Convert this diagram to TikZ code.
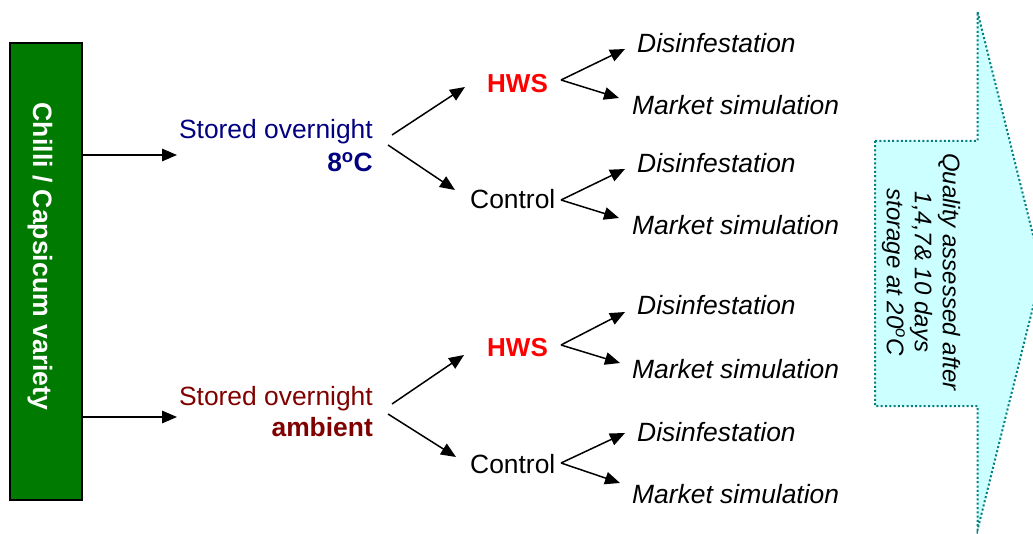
\documentclass[tikz,border=0pt]{standalone}
\usepackage{fontspec}
\setmainfont{Liberation Sans}
\usetikzlibrary{arrows.meta}
\definecolor{navyblue}{RGB}{0,0,128}
\definecolor{maroonred}{RGB}{128,0,0}
\definecolor{boxgreen}{RGB}{0,122,0}
\definecolor{arrowfill}{RGB}{204,255,255}
\definecolor{arrowline}{RGB}{0,128,128}
\begin{document}
\begin{tikzpicture}[x=1pt,y=-1pt,
  lbl/.style={inner sep=0pt, font=\fontsize{26.4}{31}\selectfont},
  outc/.style={lbl, font=\fontsize{26.4}{31}\selectfont\itshape, anchor=base west},
  arr/.style={-{Triangle[length=15pt,width=12.5pt]}, line width=1.5pt, black},
  varbox/.style={draw=black, line width=1.5pt, fill=boxgreen, inner sep=0pt, outer sep=0pt}]
\useasboundingbox (0,0) rectangle (1033,534);
\clip (0,0) rectangle (1033,534);

% big arrow
\path[fill=arrowfill, draw=arrowline, line width=2pt, dash pattern=on 2pt off 2.3pt]
  (875,141) -- (977.5,141) -- (977.5,11.7) -- (1042,271) -- (977.5,530) -- (977.5,406) -- (875,406) -- cycle;
\node[rotate=-90, align=center, inner sep=0pt, font=\fontsize{24}{28}\selectfont\itshape] (quality) at (921,272)
  {Quality assessed after\\1,4,7\& 10 days\\storage at 20\textsuperscript{o}C};

% variety box
\node[varbox, minimum width=72pt, minimum height=457pt] (variety) at (46,271.5) {};
\node[rotate=-90, anchor=base, inner sep=0pt, text=white, font=\fontsize{26.6}{31}\selectfont\bfseries] (vlabel) at (33,256.5) {Chilli / Capsicum variety};

% storage conditions
\node[lbl, anchor=base east, text=navyblue] (s1) at (373,139) {Stored overnight};
\node[lbl, anchor=base east, text=navyblue, font=\fontsize{26.4}{31}\selectfont\bfseries] (s1b) at (373,172) {8\textsuperscript{o}C};
\node[lbl, anchor=base east, text=maroonred] (s2) at (373,405) {Stored overnight};
\node[lbl, anchor=base east, text=maroonred, font=\fontsize{26.4}{31}\selectfont\bfseries] (s2b) at (373,436) {ambient};

% treatments
\node[lbl, anchor=base west, text=red, font=\fontsize{26}{31}\selectfont\bfseries] (hws1) at (487,93) {HWS};
\node[lbl, anchor=base west] (ctl1) at (470,209) {Control};
\node[lbl, anchor=base west, text=red, font=\fontsize{26}{31}\selectfont\bfseries] (hws2) at (487,357) {HWS};
\node[lbl, anchor=base west] (ctl2) at (470,473) {Control};

% outcomes
\node[outc] (d1) at (637,53) {Disinfestation};
\node[outc] (m1) at (632,115) {Market simulation};
\node[outc] (d2) at (637,173) {Disinfestation};
\node[outc] (m2) at (632,235) {Market simulation};
\node[outc] (d3) at (637,315) {Disinfestation};
\node[outc] (m3) at (632,378) {Market simulation};
\node[outc] (d4) at (637,441) {Disinfestation};
\node[outc] (m4) at (632,503) {Market simulation};

% connectors
\draw[arr] ([shift={(0,112)}]variety.north east) -- ([shift={(-196,16)}]s1.base east);
\draw[arr] ([shift={(0,374)}]variety.north east) -- ([shift={(-196,12)}]s2.base east);

\draw[arr] ([shift={(19,-4)}]s1.base east) -- ([shift={(-22,-6)}]hws1.base west);
\draw[arr] ([shift={(15,6)}]s1.base east) -- ([shift={(-15,-19)}]ctl1.base west);
\draw[arr] ([shift={(19,-1)}]s2.base east) -- ([shift={(-23,-2)}]hws2.base west);
\draw[arr] ([shift={(15,9)}]s2.base east) -- ([shift={(-14,-16)}]ctl2.base west);

\draw[arr] ([shift={(74,-13)}]hws1.base west) -- ([shift={(-12,-4)}]d1.base west);
\draw[arr] ([shift={(74,-13)}]hws1.base west) -- ([shift={(-13,-17)}]m1.base west);
\draw[arr] ([shift={(91,-9)}]ctl1.base west) -- ([shift={(-12,-4)}]d2.base west);
\draw[arr] ([shift={(91,-9)}]ctl1.base west) -- ([shift={(-13,-17)}]m2.base west);
\draw[arr] ([shift={(74,-12)}]hws2.base west) -- ([shift={(-12,-3)}]d3.base west);
\draw[arr] ([shift={(74,-12)}]hws2.base west) -- ([shift={(-12,-15)}]m3.base west);
\draw[arr] ([shift={(91,-10)}]ctl2.base west) -- ([shift={(-12,-8)}]d4.base west);
\draw[arr] ([shift={(91,-10)}]ctl2.base west) -- ([shift={(-12,-20)}]m4.base west);
\end{tikzpicture}
\end{document}
